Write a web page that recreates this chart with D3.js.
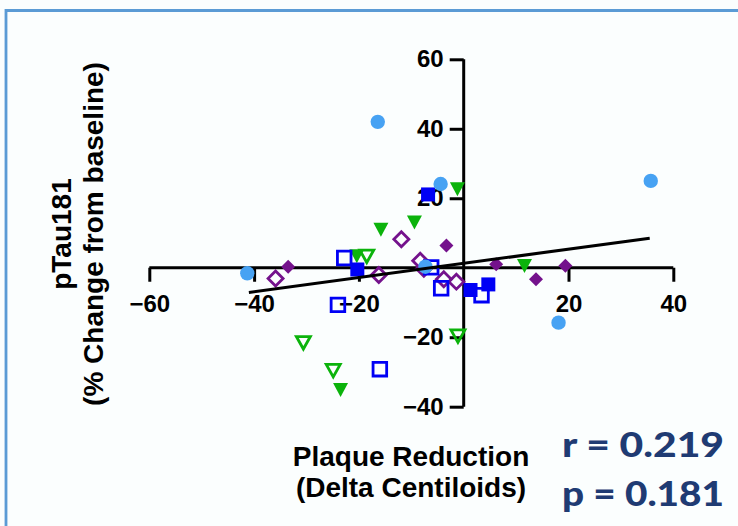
<!DOCTYPE html>
<html>
<head>
<meta charset="utf-8">
<script src="https://cdn.jsdelivr.net/npm/d3@7"></script>
<style>
  html, body { margin: 0; padding: 0; background: #fbfefe; }
  svg { display: block; }
</style>
</head>
<body>
<svg id="chart" width="738" height="526"></svg>
<script>
// ─── Data ────────────────────────────────────────────────────────────────────
const xTicks = [-60, -40, -20, 20, 40];
const yTicks = [-40, -20, 20, 40, 60];

const blueCircles   = [[-16.4, 42.0], [-4.4, 24.1], [35.7, 25.0], [18.1, -15.8], [-41.3, -1.6], [-7.3, 0.3]];
const blueSquares   = [[-6.8, 21.1], [-20.3, -0.5], [1.3, -6.4], [4.7, -4.8]];
const blueOpenSq    = [[-22.8, 2.8], [-24.0, -10.7], [-16.0, -29.2], [-4.3, -5.9], [3.4, -7.9], [-6.2, 0.1]];
const greenTri      = [[-1.2, 22.6], [-15.8, 10.9], [-9.4, 13.0], [-23.5, -35.2], [11.6, 0.5], [-20.4, 3.3]];
const greenOpenTri  = [[-30.6, -21.6], [-24.9, -29.6], [-1.1, -19.7], [-18.5, 3.3]];
const purpleDiam    = [[-33.5, 0.3], [-3.3, 6.4], [6.2, 1.0], [13.8, -3.3], [19.4, 0.6]];
const purpleOpenDia = [[-35.9, -3.1], [-11.9, 8.2], [-16.2, -2.1], [-8.3, 2.0], [-7.6, -0.3], [-3.8, -3.3], [-1.4, -4.0]];

const fitSlope = 0.204;
const fitIntercept = 1.26;
const fitXRange = [-41, 35.5];

const statLines = ['r = 0.219', 'p = 0.181'];

// ─── Style ───────────────────────────────────────────────────────────────────
const C = {
  bg: '#fbfefe',
  border: '#5b9bd5',
  lightBlue: '#47a2f3',
  blue: '#0000f5',
  green: '#0bb30b',
  purple: '#74128c',
  navy: '#1f3b73',
  font: 'Liberation Sans, Arial, Helvetica, sans-serif',
};

const svg = d3.select('#chart');

svg.append('rect').attr('width', 738).attr('height', 526).attr('fill', C.bg);

// frame (top + left edge of a box)
svg.append('path')
  .attr('d', 'M6,526 L6,10.5 L738,10.5')
  .attr('fill', 'none').attr('stroke', C.border).attr('stroke-width', 2.8);

const x = d3.scaleLinear().domain([-60, 40]).range([149.3, 673.3]);
const y = d3.scaleLinear().domain([-40, 60]).range([406.7, 59.3]);

// ─── Axes (crossing at origin) ───────────────────────────────────────────────
const xAxis = svg.append('g')
  .attr('transform', `translate(0,${y(0)})`)
  .call(d3.axisBottom(x).tickValues(xTicks).tickSize(14).tickPadding(13).tickFormat(d3.format('d')));
const yAxis = svg.append('g')
  .attr('transform', `translate(${x(0)},0)`)
  .call(d3.axisLeft(y).tickValues(yTicks).tickSize(14).tickPadding(6).tickFormat(d3.format('d')));

[xAxis, yAxis].forEach((ax) => {
  ax.select('.domain').attr('stroke', '#000').attr('stroke-width', 3);
  ax.selectAll('.tick line').attr('stroke', '#000').attr('stroke-width', 3);
  ax.selectAll('.tick text')
    .attr('fill', '#000').attr('font-size', 24).attr('font-weight', 700)
    .attr('font-family', C.font);
});
// plain domain lines without outer ticks
xAxis.select('.domain').attr('d', `M${x(-60)},0H${x(40)}`);
yAxis.select('.domain').attr('d', `M0,${y(60)}V${y(-40)}`);

// ─── Axis titles ─────────────────────────────────────────────────────────────
const yTitle = svg.append('text')
  .attr('transform', `translate(0,234) rotate(-90)`)
  .attr('text-anchor', 'middle').attr('font-size', 28).attr('font-weight', 700)
  .attr('font-family', C.font).attr('fill', '#000');
yTitle.append('tspan').attr('x', 0).attr('y', 71).text('pTau181');
yTitle.append('tspan').attr('x', 0).attr('y', 103).text('(% Change from baseline)');

const xTitle = svg.append('text')
  .attr('text-anchor', 'middle').attr('font-size', 28).attr('font-weight', 700)
  .attr('font-family', C.font).attr('fill', '#000');
xTitle.append('tspan').attr('x', 411).attr('y', 466).text('Plaque Reduction');
xTitle.append('tspan').attr('x', 411).attr('y', 497).text('(Delta Centiloids)');

// ─── Markers ─────────────────────────────────────────────────────────────────
const plot = svg.append('g');

function squarePath(s) { return `M${-s},${-s}H${s}V${s}H${-s}Z`; }
function triDownPath(w, h) { return `M${-w},${-h / 2}H${w}L0,${h / 2}Z`; }
function diamondPath(s) { return `M0,${-s}L${s},0L0,${s}L${-s},0Z`; }

function drawSeries(data, d, fill, stroke, sw) {
  plot.selectAll(null).data(data).enter().append('path')
    .attr('transform', (p) => `translate(${x(p[0])},${y(p[1])})`)
    .attr('d', d)
    .attr('fill', fill)
    .attr('stroke', stroke)
    .attr('stroke-width', sw)
    .attr('stroke-linejoin', 'miter');
}

drawSeries(purpleOpenDia, diamondPath(7.5), 'none', C.purple, 2.8);
drawSeries(purpleDiam, diamondPath(7), C.purple, 'none', 0);
drawSeries(greenOpenTri, triDownPath(7, 12.5), 'none', C.green, 2.8);
drawSeries(greenTri, triDownPath(7.5, 14), C.green, 'none', 0);
drawSeries(blueOpenSq, squarePath(6.8), 'none', C.blue, 2.8);
drawSeries(blueSquares, squarePath(7), C.blue, 'none', 0);

plot.selectAll(null).data(blueCircles).enter().append('circle')
  .attr('cx', (p) => x(p[0])).attr('cy', (p) => y(p[1]))
  .attr('r', 7.2).attr('fill', C.lightBlue);

// ─── Regression line ─────────────────────────────────────────────────────────
svg.append('line')
  .attr('x1', x(fitXRange[0])).attr('y1', y(fitSlope * fitXRange[0] + fitIntercept))
  .attr('x2', x(fitXRange[1])).attr('y2', y(fitSlope * fitXRange[1] + fitIntercept))
  .attr('stroke', '#000').attr('stroke-width', 3);

// ─── Stats ───────────────────────────────────────────────────────────────────
svg.selectAll('text.stat').data(statLines).enter().append('text')
  .attr('class', 'stat')
  .attr('x', 562).attr('y', (d, i) => 457 + i * 49)
  .attr('font-size', 35).attr('font-weight', 900)
  .attr('font-family', 'Lato, Open Sans, sans-serif')
  .attr('fill', C.navy)
  .attr('textLength', 162).attr('lengthAdjust', 'spacingAndGlyphs')
  .text((d) => d);
</script>
</body>
</html>
